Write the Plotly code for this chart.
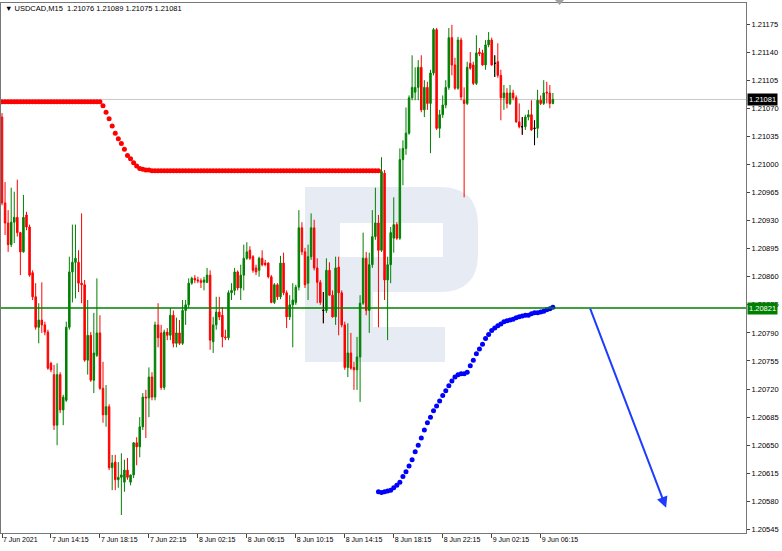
import plotly.graph_objects as go

# ---------------- data (USDCAD M15, 7 Jun 10:15 .. 9 Jun 07:30) ----------------
opens = [
1.21059, 1.20952, 1.20927, 1.20900, 1.20928, 1.20934, 1.20915, 1.20891, 1.20937, 1.20922,
1.20865, 1.20835, 1.20797, 1.20806, 1.20800, 1.20791, 1.20752, 1.20738, 1.20675, 1.20738,
1.20694, 1.20706, 1.20797, 1.20866, 1.20878, 1.20878, 1.20852, 1.20850, 1.20756, 1.20787,
1.20731, 1.20762, 1.20790, 1.20721, 1.20688, 1.20698, 1.20622, 1.20629, 1.20607, 1.20610,
1.20604, 1.20619, 1.20604, 1.20613, 1.20653, 1.20648, 1.20673, 1.20710, 1.20709, 1.20735,
1.20710, 1.20800, 1.20790, 1.20722, 1.20791, 1.20787, 1.20812, 1.20777, 1.20790, 1.20777,
1.20818, 1.20825, 1.20852, 1.20858, 1.20856, 1.20855, 1.20853, 1.20853, 1.20862, 1.20779,
1.20800, 1.20816, 1.20812, 1.20785, 1.20784, 1.20840, 1.20843, 1.20866, 1.20846, 1.20862,
1.20883, 1.20893, 1.20885, 1.20871, 1.20868, 1.20883, 1.20877, 1.20877, 1.20860, 1.20828,
1.20850, 1.20835, 1.20877, 1.20840, 1.20810, 1.20825, 1.20828, 1.20847, 1.20921, 1.20891,
1.20852, 1.20885, 1.20921, 1.20871, 1.20853, 1.20818, 1.20818, 1.20868, 1.20837, 1.20810,
1.20872, 1.20840, 1.20800, 1.20747, 1.20765, 1.20747, 1.20744, 1.20760, 1.20827, 1.20883,
1.20818, 1.20875, 1.20910, 1.20927, 1.20893, 1.20989, 1.20856, 1.20875, 1.20908, 1.20925,
1.20908, 1.21006, 1.21020, 1.21039, 1.21083, 1.21090, 1.21096, 1.21121, 1.21068, 1.21096,
1.21076, 1.21114, 1.21168, 1.21045, 1.21062, 1.21074, 1.21096, 1.21158, 1.21124, 1.21095,
1.21155, 1.21080, 1.21076, 1.21126, 1.21124, 1.21101, 1.21140, 1.21139, 1.21124, 1.21149,
1.21155, 1.21126, 1.21128, 1.21111, 1.21083, 1.21089, 1.21076, 1.21089, 1.21083, 1.21053,
1.21047, 1.21047, 1.21059, 1.21062, 1.21045, 1.21045, 1.21080, 1.21076, 1.21090, 1.21089,
1.21076]

highs = [
1.21064, 1.20978, 1.20943, 1.20971, 1.20966, 1.20981, 1.20916, 1.20962, 1.20941, 1.20925,
1.20868, 1.20852, 1.20827, 1.20853, 1.20804, 1.20794, 1.20754, 1.20750, 1.20752, 1.20741,
1.20713, 1.20804, 1.20885, 1.20925, 1.20925, 1.20893, 1.20939, 1.20856, 1.20831, 1.20791,
1.20815, 1.20858, 1.20812, 1.20754, 1.20725, 1.20701, 1.20638, 1.20638, 1.20629, 1.20640,
1.20632, 1.20634, 1.20613, 1.20654, 1.20660, 1.20685, 1.20715, 1.20719, 1.20747, 1.20741,
1.20804, 1.20827, 1.20800, 1.20794, 1.20796, 1.20821, 1.20818, 1.20809, 1.20806, 1.20831,
1.20831, 1.20858, 1.20860, 1.20862, 1.20860, 1.20858, 1.20860, 1.20871, 1.20868, 1.20810,
1.20835, 1.20835, 1.20822, 1.20794, 1.20843, 1.20852, 1.20871, 1.20868, 1.20875, 1.20900,
1.20903, 1.20898, 1.20887, 1.20875, 1.20885, 1.20893, 1.20881, 1.20878, 1.20862, 1.20852,
1.20852, 1.20886, 1.20890, 1.20843, 1.20837, 1.20852, 1.20850, 1.20943, 1.20928, 1.20896,
1.20900, 1.20939, 1.20931, 1.20883, 1.20856, 1.20841, 1.20883, 1.20878, 1.20843, 1.20885,
1.20885, 1.20843, 1.20804, 1.20802, 1.20790, 1.20754, 1.20785, 1.20837, 1.20915, 1.20891,
1.20890, 1.20943, 1.20971, 1.20937, 1.21009, 1.20993, 1.20885, 1.20922, 1.20959, 1.20928,
1.21020, 1.21030, 1.21071, 1.21086, 1.21136, 1.21121, 1.21130, 1.21136, 1.21105, 1.21103,
1.21118, 1.21170, 1.21170, 1.21068, 1.21086, 1.21105, 1.21170, 1.21174, 1.21133, 1.21159,
1.21158, 1.21096, 1.21128, 1.21140, 1.21128, 1.21161, 1.21145, 1.21143, 1.21155, 1.21165,
1.21158, 1.21136, 1.21151, 1.21118, 1.21099, 1.21095, 1.21099, 1.21093, 1.21086, 1.21076,
1.21059, 1.21062, 1.21068, 1.21080, 1.21055, 1.21093, 1.21086, 1.21105, 1.21103, 1.21099,
1.21089]

lows = [
1.20949, 1.20912, 1.20891, 1.20897, 1.20902, 1.20910, 1.20862, 1.20890, 1.20918, 1.20860,
1.20831, 1.20794, 1.20777, 1.20790, 1.20787, 1.20744, 1.20741, 1.20669, 1.20650, 1.20690,
1.20675, 1.20704, 1.20794, 1.20828, 1.20833, 1.20841, 1.20827, 1.20754, 1.20738, 1.20729,
1.20715, 1.20760, 1.20719, 1.20678, 1.20673, 1.20619, 1.20594, 1.20594, 1.20597, 1.20563,
1.20592, 1.20607, 1.20600, 1.20609, 1.20625, 1.20635, 1.20669, 1.20659, 1.20685, 1.20706,
1.20706, 1.20772, 1.20719, 1.20719, 1.20781, 1.20781, 1.20772, 1.20772, 1.20775, 1.20775,
1.20800, 1.20821, 1.20850, 1.20852, 1.20852, 1.20846, 1.20843, 1.20852, 1.20769, 1.20765,
1.20794, 1.20806, 1.20772, 1.20781, 1.20781, 1.20831, 1.20837, 1.20843, 1.20831, 1.20843,
1.20881, 1.20881, 1.20865, 1.20862, 1.20860, 1.20873, 1.20873, 1.20858, 1.20827, 1.20826,
1.20831, 1.20832, 1.20837, 1.20796, 1.20806, 1.20772, 1.20825, 1.20843, 1.20887, 1.20846,
1.20831, 1.20881, 1.20868, 1.20827, 1.20825, 1.20802, 1.20815, 1.20836, 1.20809, 1.20800,
1.20787, 1.20797, 1.20744, 1.20735, 1.20744, 1.20719, 1.20719, 1.20704, 1.20825, 1.20812,
1.20790, 1.20871, 1.20906, 1.20797, 1.20891, 1.20831, 1.20781, 1.20852, 1.20890, 1.20906,
1.20906, 1.20974, 1.21012, 1.21037, 1.21080, 1.21080, 1.21080, 1.21065, 1.21059, 1.21068,
1.21014, 1.21111, 1.21043, 1.21033, 1.21058, 1.21070, 1.21093, 1.21111, 1.21093, 1.21093,
1.21080, 1.20959, 1.21074, 1.21118, 1.21099, 1.21099, 1.21135, 1.21123, 1.21118, 1.21146,
1.21123, 1.21109, 1.21108, 1.21055, 1.21068, 1.21070, 1.21074, 1.21080, 1.21052, 1.21045,
1.21037, 1.21043, 1.21055, 1.21042, 1.21024, 1.21033, 1.21074, 1.21074, 1.21076, 1.21070,
1.21075]

closes = [
1.20952, 1.20927, 1.20900, 1.20928, 1.20934, 1.20915, 1.20891, 1.20934, 1.20922, 1.20862,
1.20835, 1.20797, 1.20806, 1.20800, 1.20791, 1.20746, 1.20744, 1.20675, 1.20738, 1.20694,
1.20710, 1.20797, 1.20866, 1.20878, 1.20883, 1.20852, 1.20850, 1.20756, 1.20787, 1.20731,
1.20765, 1.20790, 1.20721, 1.20688, 1.20698, 1.20622, 1.20628, 1.20607, 1.20610, 1.20613,
1.20619, 1.20610, 1.20613, 1.20653, 1.20648, 1.20673, 1.20710, 1.20709, 1.20735, 1.20710,
1.20800, 1.20784, 1.20722, 1.20791, 1.20787, 1.20812, 1.20777, 1.20790, 1.20777, 1.20818,
1.20825, 1.20852, 1.20858, 1.20856, 1.20855, 1.20853, 1.20856, 1.20862, 1.20781, 1.20800,
1.20816, 1.20810, 1.20785, 1.20784, 1.20840, 1.20843, 1.20866, 1.20846, 1.20862, 1.20883,
1.20891, 1.20883, 1.20868, 1.20866, 1.20883, 1.20875, 1.20875, 1.20860, 1.20828, 1.20850,
1.20835, 1.20877, 1.20840, 1.20810, 1.20825, 1.20831, 1.20847, 1.20921, 1.20891, 1.20850,
1.20885, 1.20921, 1.20871, 1.20853, 1.20828, 1.20818, 1.20868, 1.20837, 1.20810, 1.20871,
1.20840, 1.20800, 1.20747, 1.20765, 1.20746, 1.20744, 1.20760, 1.20827, 1.20883, 1.20818,
1.20875, 1.20910, 1.20927, 1.20893, 1.20991, 1.20856, 1.20875, 1.20915, 1.20925, 1.20908,
1.21006, 1.21020, 1.21039, 1.21083, 1.21096, 1.21096, 1.21121, 1.21068, 1.21096, 1.21076,
1.21114, 1.21168, 1.21045, 1.21062, 1.21074, 1.21096, 1.21158, 1.21124, 1.21095, 1.21155,
1.21084, 1.21076, 1.21121, 1.21120, 1.21101, 1.21139, 1.21138, 1.21124, 1.21149, 1.21155,
1.21124, 1.21126, 1.21111, 1.21083, 1.21089, 1.21076, 1.21089, 1.21083, 1.21053, 1.21047,
1.21047, 1.21059, 1.21062, 1.21043, 1.21045, 1.21080, 1.21076, 1.21089, 1.21089, 1.21076,
1.21081]

# red dotted indicator (bars 0..123)
red_vals = ([1.21078] * 33 +
            [1.21073, 1.21065, 1.21057, 1.21048, 1.21039, 1.21032, 1.21026, 1.21019,
             1.21011, 1.21007, 1.21002, 1.20998, 1.20995, 1.20994, 1.20993, 1.20993] +
            [1.20992] * 75)

# blue dotted indicator (bars 123..180)
blue_start = 123
blue_vals = [
1.20592, 1.20591, 1.20592, 1.20593, 1.20594, 1.20597, 1.20600, 1.20604, 1.20611, 1.20617,
1.20624, 1.20632, 1.20642, 1.20650, 1.20659, 1.20669, 1.20678, 1.20685, 1.20693, 1.20699,
1.20705, 1.20712, 1.20718, 1.20724, 1.20730, 1.20735, 1.20738, 1.20739, 1.20739, 1.20741,
1.20749, 1.20756, 1.20764, 1.20770, 1.20776, 1.20783, 1.20788, 1.20793, 1.20796, 1.20799,
1.20801, 1.20804, 1.20805, 1.20806, 1.20807, 1.20809, 1.20810, 1.20811, 1.20812, 1.20812,
1.20814, 1.20815, 1.20815, 1.20816, 1.20817, 1.20819, 1.20820, 1.20822]

current_price = 1.21081
level_price = 1.20821
arrow_start = (192, 1.20822)   # (bar index, price)
arrow_end = (217, 1.20572)

tick_idx = [0, 16, 32, 48, 64, 80, 96, 112, 128, 144, 160, 176]
tick_labels = ["7 Jun 2021", "7 Jun 14:15", "7 Jun 18:15", "7 Jun 22:15", "8 Jun 02:15",
               "8 Jun 06:15", "8 Jun 10:15", "8 Jun 14:15", "8 Jun 18:15", "8 Jun 22:15",
               "9 Jun 02:15", "9 Jun 06:15"]
price_ticks = [1.20545, 1.20580, 1.20615, 1.20650, 1.20685, 1.20720, 1.20755, 1.20790,
               1.20825, 1.20860, 1.20895, 1.20930, 1.20965, 1.21000, 1.21035, 1.21070,
               1.21105, 1.21140, 1.21175]

title_text = "USDCAD,M15\u00a0\u00a01.21076 1.21089 1.21075 1.21081"

# ---------------- figure ----------------
FONT = "Liberation Sans"
GREEN = "#008000"
RED = "#ff0000"

bars = list(range(len(closes)))
fig = go.Figure()

fig.add_trace(go.Candlestick(
    x=bars, open=opens, high=highs, low=lows, close=closes,
    increasing=dict(line=dict(color=GREEN, width=1), fillcolor=GREEN),
    decreasing=dict(line=dict(color=RED, width=1), fillcolor=RED),
    whiskerwidth=0, hoverinfo="skip", name="USDCAD"))

doji = [i for i in bars if opens[i] == closes[i]]
fig.add_trace(go.Candlestick(
    x=doji, open=[opens[i] for i in doji], high=[highs[i] for i in doji],
    low=[lows[i] for i in doji], close=[closes[i] for i in doji],
    increasing=dict(line=dict(color="#000000", width=1), fillcolor="#000000"),
    decreasing=dict(line=dict(color="#000000", width=1), fillcolor="#000000"),
    whiskerwidth=0, hoverinfo="skip"))

fig.add_trace(go.Scatter(
    x=list(range(len(red_vals))), y=red_vals, mode="markers",
    marker=dict(color=RED, size=5, line=dict(width=0)), hoverinfo="skip"))

fig.add_trace(go.Scatter(
    x=list(range(blue_start, blue_start + len(blue_vals))), y=blue_vals, mode="markers",
    marker=dict(color="#0000ff", size=5, line=dict(width=0)), hoverinfo="skip"))

# ---- decorative watermark (paper coords computed from pixel layout) ----
PL, PR, PT, PB = 1, 746, 3, 533
def px(xp):
    return (xp - PL) / (PR - PL)
def py(yp):
    return (PB - yp) / (PB - PT)

def path(points_cmds):
    out = []
    for cmd, pts in points_cmds:
        coords = " ".join(f"{px(a):.5f},{py(b):.5f}" for a, b in pts)
        out.append(f"{cmd} {coords}")
    return " ".join(out) + " Z"

WM = "#e6ebf4"
logo = path([("M", [(305, 187)]), ("L", [(440, 187)]), ("Q", [(478, 187), (478, 225)]),
             ("L", [(478, 254)]), ("Q", [(478, 292), (440, 292)]), ("L", [(373, 292)]),
             ("L", [(373, 327)]), ("L", [(445, 327)]), ("L", [(445, 362)]), ("L", [(305, 362)])])
shapes = [
    dict(type="path", xref="paper", yref="paper", path=logo, fillcolor=WM,
         line=dict(width=0), layer="below"),
    dict(type="rect", xref="paper", yref="paper", x0=px(340), x1=px(443), y0=py(257), y1=py(223),
         fillcolor="white", line=dict(width=0), layer="below"),
    dict(type="line", xref="paper", yref="y", x0=0, x1=1, y0=current_price, y1=current_price,
         line=dict(color="#c8c8c8", width=1), layer="below"),
    dict(type="line", xref="paper", yref="y", x0=0, x1=1, y0=level_price, y1=level_price,
         line=dict(color=GREEN, width=1.5)),
    dict(type="path", xref="paper", yref="paper",
         path=path([("M", [(555, 0)]), ("L", [(564, 0)]), ("L", [(559.5, 5)])]),
         fillcolor="#a0a0a0", line=dict(width=0)),
]

annotations = [
    dict(x=px(3), y=py(9), xref="paper", yref="paper", xanchor="left", yanchor="middle",
         text="\u25bc " + title_text, showarrow=False,
         font=dict(family=FONT, size=7.5, color="black")),
    dict(x=1, xref="paper", xanchor="left", xshift=1, y=current_price, yref="y",
         text=f"{current_price:.5f}", showarrow=False, bgcolor="black", borderpad=1,
         font=dict(family=FONT, size=7.5, color="white")),
    dict(x=1, xref="paper", xanchor="left", xshift=1, y=level_price, yref="y",
         text=f"{level_price:.5f}", showarrow=False, bgcolor=GREEN, borderpad=1,
         font=dict(family=FONT, size=7.5, color="white")),
    dict(x=arrow_end[0], y=arrow_end[1], ax=arrow_start[0], ay=arrow_start[1],
         xref="x", yref="y", axref="x", ayref="y", text="", showarrow=True,
         arrowhead=2, arrowsize=1.1, arrowwidth=2, arrowcolor="#1e3cff"),
]

fig.update_layout(
    width=782, height=551,
    margin=dict(l=PL, r=782 - PR, t=PT, b=551 - PB),
    paper_bgcolor="white", plot_bgcolor="white",
    showlegend=False,
    font=dict(family=FONT, size=7, color="black"),
    shapes=shapes, annotations=annotations,
    xaxis=dict(range=[-0.33, 243.1], tickvals=tick_idx, ticktext=tick_labels,
               ticks="outside", ticklen=4, tickcolor="#444", ticklabelposition="outside right",
               tickfont=dict(family=FONT, size=7, color="black"),
               showline=True, linecolor="#777", linewidth=1, mirror=True,
               showgrid=False, zeroline=False, rangeslider=dict(visible=False), fixedrange=True),
    yaxis=dict(range=[1.205406, 1.212012], side="right", tickvals=price_ticks,
               ticktext=[f"{v:.5f}" for v in price_ticks],
               ticks="outside", ticklen=3, tickcolor="#444",
               tickfont=dict(family=FONT, size=7.5, color="black"),
               showline=True, linecolor="#777", linewidth=1, mirror=True,
               showgrid=False, zeroline=False, fixedrange=True),
)

fig.write_html("out.html", config={"displayModeBar": False},
               post_script="document.body.style.margin='0px';document.body.style.overflow='hidden';")
